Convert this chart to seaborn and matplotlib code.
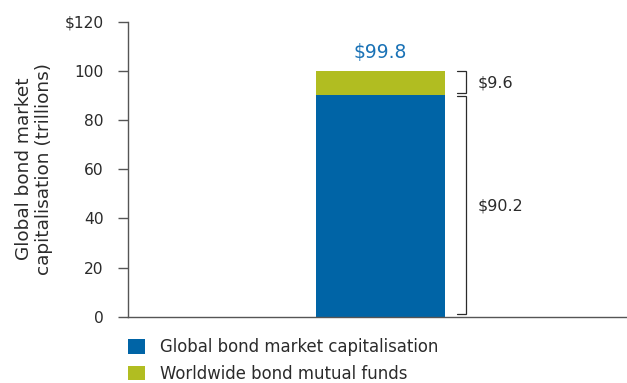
import matplotlib
matplotlib.use("Agg")
import matplotlib.pyplot as plt
import seaborn as sns
import pandas as pd
from matplotlib.patches import Patch

# ---- data ----
category = ["Global bonds"]
market_cap = [90.2]      # Global bond market capitalisation
mutual_funds = [9.6]     # Worldwide bond mutual funds
series_labels = ["Global bond market capitalisation", "Worldwide bond mutual funds"]
yticks = [0, 20, 40, 60, 80, 100, 120]
ytick_labels = ["0", "20", "40", "60", "80", "100", "$120"]

total = [c + f for c, f in zip(market_cap, mutual_funds)]

BLUE = "#0064a6"
GREEN = "#b1bd21"
LABEL_BLUE = "#1a72b6"
TXT = "#2b2b2b"
AX = "#555555"

sns.set_theme(style="white")
plt.rcParams["font.family"] = ["DejaVu Sans"]

fig = plt.figure(figsize=(6.27, 3.83), dpi=100)
ax = fig.add_axes([128/627, 1 - 316.7/383, 499/627, (316.7 - 21.5)/383])

df = pd.DataFrame({"cat": category, "total": total, "cap": market_cap})
sns.barplot(data=df, x="cat", y="total", color=GREEN, width=1.0, ax=ax,
            saturation=1, linewidth=0)
sns.barplot(data=df, x="cat", y="cap", color=BLUE, width=1.0, ax=ax,
            saturation=1, linewidth=0)

ax.set_xlim(-1.957, 1.911)
ax.set_ylim(0, 120)
ax.set_yticks(yticks)
ax.set_yticklabels(ytick_labels)
ax.set_xticks([])
ax.set_xlabel("")
ax.tick_params(axis="y", length=7, width=1, color=AX, labelsize=11.2, labelcolor=TXT,
               pad=10.5, left=True)
ax.set_ylabel("Global bond market\ncapitalisation (trillions)", fontsize=13.3, color=TXT,
              labelpad=8.5, linespacing=1.15)
for s in ["top", "right"]:
    ax.spines[s].set_visible(False)
for s in ["left", "bottom"]:
    ax.spines[s].set_color(AX)
    ax.spines[s].set_linewidth(1)

# total label
ax.text(0, total[0] + 7.5, f"${total[0]:.1f}", ha="center", va="center",
        fontsize=13.5, color=LABEL_BLUE)

# brackets
xv = 0.5 + 0.163
xt = 0.5 + 0.093
xtext = 0.5 + 0.254
segs = [(market_cap[0] + 0.9, total[0] + 0.2), (1.1, market_cap[0] - 0.4)]
for lo, hi in segs:
    ax.plot([xt, xv, xv, xt], [hi, hi, lo, lo], color=TXT, lw=0.9, clip_on=False,
            solid_joinstyle="miter")
ax.text(xtext, market_cap[0] + mutual_funds[0] / 2, f"${mutual_funds[0]:.1f}",
        ha="left", va="center", fontsize=11.5, color=TXT)
ax.text(xtext, market_cap[0] / 2, f"${market_cap[0]:.1f}",
        ha="left", va="center", fontsize=11.5, color=TXT)

handles = [Patch(facecolor=BLUE, edgecolor="none"), Patch(facecolor=GREEN, edgecolor="none")]
fig.legend(handles, series_labels, loc="center left",
           bbox_to_anchor=(128/627, 1 - 360.5/383), frameon=False, fontsize=11.9,
           handlelength=1.04, handleheight=0.98, handletextpad=0.9,
           labelspacing=0.5, borderpad=0, borderaxespad=0, labelcolor=TXT)

fig.savefig("out.png", dpi=100)
